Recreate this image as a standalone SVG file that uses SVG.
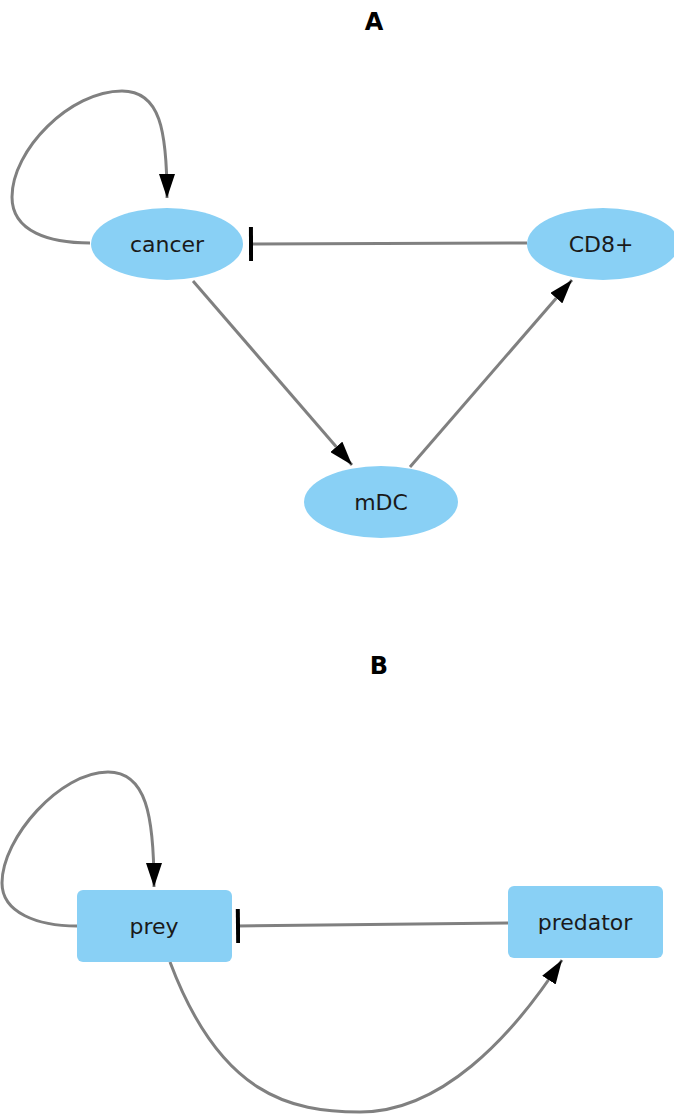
<svg xmlns="http://www.w3.org/2000/svg" width="674" height="1114" viewBox="0 0 674 1114">
<defs>
<style>
.node{fill:#89d0f5;stroke:none}
.lbl{font-family:"DejaVu Sans",sans-serif;font-size:22px;fill:#1a1a1a;text-anchor:middle}
.title{font-family:"DejaVu Sans",sans-serif;font-size:24px;font-weight:bold;fill:#000;text-anchor:middle}
.edge{fill:none;stroke:#808080;stroke-width:3}
</style>
<marker id="arrow" viewBox="0 0 24 16" refX="24" refY="8" markerWidth="24" markerHeight="16" orient="auto" markerUnits="userSpaceOnUse">
<path d="M0,0 L24,8 L0,16 z" fill="#000"/>
</marker>
<marker id="tee" viewBox="0 0 6 34" refX="3" refY="17" markerWidth="6" markerHeight="34" orient="auto" markerUnits="userSpaceOnUse">
<rect x="0" y="0" width="4" height="34" fill="#000"/>
</marker>
</defs>
<text class="title" x="374" y="30">A</text>
<text class="title" x="379" y="674">B</text>
<g id="edges">
<path class="edge" d="M90,243 C50,243 12,232 12,197 C12,150 70,91 122,91 C160,91 167,130 167,198" marker-end="url(#arrow)"/>
<path class="edge" d="M527,243 L250,244" marker-end="url(#tee)"/>
<path class="edge" d="M193,281 L352,465" marker-end="url(#arrow)"/>
<path class="edge" d="M410,467 L572,280" marker-end="url(#arrow)"/>
<path class="edge" d="M77,926 C38,926 2,913 2,883 C2,838 60,772 108,772 C146,772 154,815 154,887" marker-end="url(#arrow)"/>
<path class="edge" d="M508,923 L237,926" marker-end="url(#tee)"/>
<path class="edge" d="M170,962 C220,1095 290,1112 360,1112 C440,1112 510,1040 562,960" marker-end="url(#arrow)"/>
</g>
<g id="cancer"><ellipse class="node" cx="167" cy="244" rx="76" ry="36"/><text class="lbl" x="167" y="252">cancer</text></g>
<g id="cd8"><ellipse class="node" cx="603" cy="244" rx="76" ry="36"/><text class="lbl" x="601" y="252">CD8+</text></g>
<g id="mdc"><ellipse class="node" cx="381" cy="502" rx="77" ry="36"/><text class="lbl" x="381" y="510">mDC</text></g>
<g id="prey"><rect class="node" x="77" y="890" width="155" height="72" rx="6"/><text class="lbl" x="154" y="934">prey</text></g>
<g id="predator"><rect class="node" x="508" y="886" width="155" height="72" rx="6"/><text class="lbl" x="585" y="930">predator</text></g>
</svg>
